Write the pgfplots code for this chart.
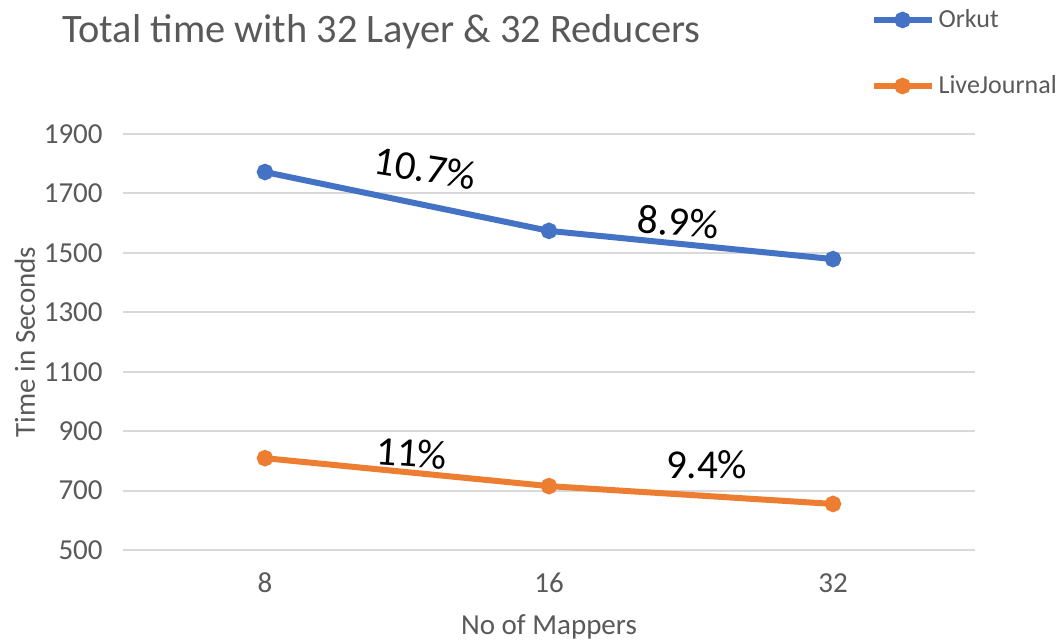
\documentclass[border=0pt]{standalone}
\usepackage{fontspec}
\setmainfont{Carlito}
\usepackage{pgfplots}
\pgfplotsset{compat=1.18}
\definecolor{cblue}{HTML}{4472C4}
\definecolor{corange}{HTML}{ED7D31}
\definecolor{tgrey}{HTML}{595959}
\definecolor{ggrey}{HTML}{D9D9D9}
\begin{document}
\begin{tikzpicture}
\begin{axis}[
  at={(0,0)}, anchor=south west,
  scale only axis, width=426pt, height=208pt,
  xmin=-0.5, xmax=2.5, ymin=500, ymax=1900,
  xtick={0,1,2}, xticklabels={8,16,32},
  ytick={500,700,900,1100,1300,1500,1700,1900},
  ymajorgrids, grid style={ggrey, line width=1pt},
  axis line style={draw=none},
  major tick length=0pt,
  /pgf/number format/assume math mode=true,
  /pgf/number format/set thousands separator={},
  tick label style={font=\fontsize{14.5}{16}\selectfont, text=tgrey},
  yticklabel style={anchor=east, inner sep=0pt, xshift=-10pt},
  xticklabel style={anchor=center, inner sep=0pt, yshift=-16.5pt},
  xlabel={No of Mappers},
  ylabel={Time in Seconds},
  label style={font=\fontsize{14.5}{16}\selectfont, text=tgrey},
  xlabel style={at={(axis description cs:0.5,-0.185)}, anchor=center},
  ylabel style={at={(axis description cs:-0.115,0.5)}, anchor=center},
  legend style={at={(axis description cs:0.877,1.31)}, anchor=north west,
    draw=none, fill=none, font=\fontsize{13}{15}\selectfont, text=tgrey,
    row sep=18.5pt, inner sep=0pt},
  legend cell align=left,
  legend image code/.code={\draw[mark repeat=2,mark phase=2,#1] plot coordinates {(0pt,0pt) (14.5pt,0pt) (29pt,0pt)};},
  clip=false,
]
\addplot[cblue, line width=3pt, mark=*, mark size=2.6pt, mark options={solid}] coordinates {(0,1772) (1,1574) (2,1479)};
\addlegendentry{Orkut}
\addplot[corange, line width=3pt, mark=*, mark size=2.6pt, mark options={solid}] coordinates {(0,809) (1,715) (2,655)};
\addlegendentry{LiveJournal}
\node[font=\fontsize{20.5}{22}\selectfont, rotate=-9] at (axis cs:0.565,1785) {10.7\%};
\node[font=\fontsize{20.5}{22}\selectfont, rotate=-5] at (axis cs:1.455,1604) {8.9\%};
\node[font=\fontsize{20.5}{22}\selectfont, rotate=-4] at (axis cs:0.517,826) {11\%};
\node[font=\fontsize{20.5}{22}\selectfont] at (axis cs:1.555,786) {9.4\%};
\end{axis}
\node[anchor=west, font=\fontsize{20.2}{22}\selectfont, text=tgrey, inner sep=0pt] at (-30.5pt,259pt) {Total time with 32 Layer \& 32 Reducers};
\pgfresetboundingbox
\path (-61.5pt,-46pt) rectangle (468.5pt,275pt);
\end{tikzpicture}
\end{document}
